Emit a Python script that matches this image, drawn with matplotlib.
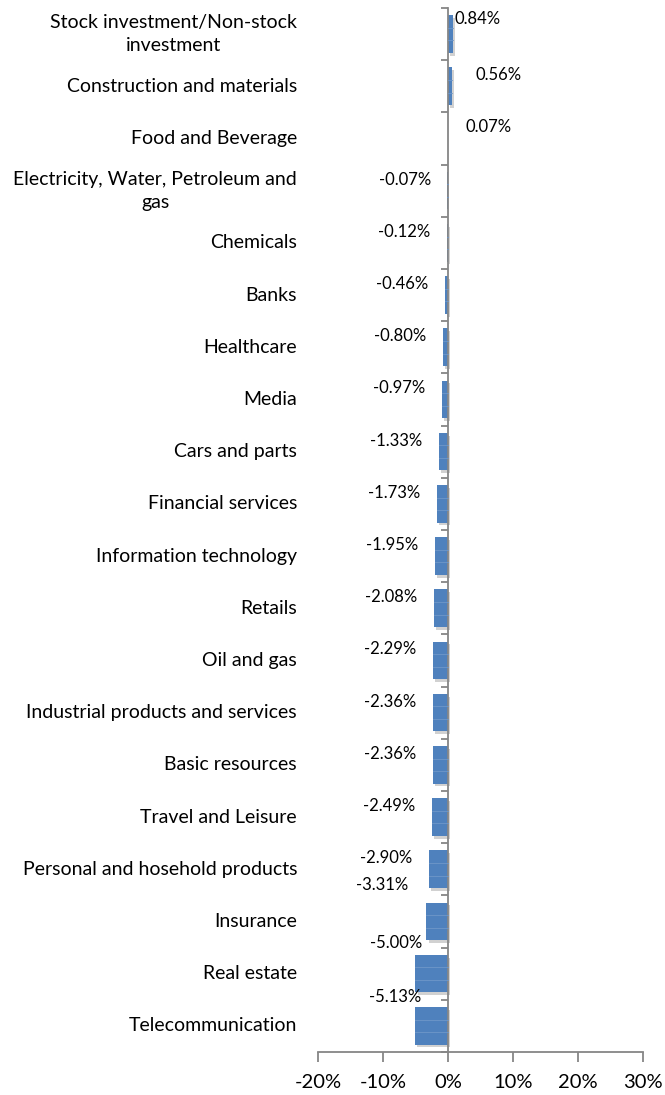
import matplotlib.pyplot as plt
import matplotlib.transforms as mtransforms
import numpy as np

plt.rcParams['font.family'] = ['Lato', 'DejaVu Sans']

# Sector performance, top to bottom
sectors = [
    'Stock investment/Non-stock\ninvestment',
    'Construction and materials',
    'Food and Beverage',
    'Electricity, Water, Petroleum and\ngas',
    'Chemicals',
    'Banks',
    'Healthcare',
    'Media',
    'Cars and parts',
    'Financial services',
    'Information technology',
    'Retails',
    'Oil and gas',
    'Industrial products and services',
    'Basic resources',
    'Travel and Leisure',
    'Personal and hosehold products',
    'Insurance',
    'Real estate',
    'Telecommunication',
]
change_pct = [0.84, 0.56, 0.07, -0.07, -0.12, -0.46, -0.80, -0.97, -1.33, -1.73,
              -1.95, -2.08, -2.29, -2.36, -2.36, -2.49, -2.90, -3.31, -5.00, -5.13]
xticks = [-20, -10, 0, 10, 20, 30]

# hand-placed label nudges (points) for a few crowded labels
label_nudge = {0: (-11, 3), 1: (5, 0), 17: (-1, 18), 18: (17, 14), 19: (17, 13)}

bar_color = '#4f81bd'
axis_color = '#868686'

fig = plt.figure(figsize=(6.65, 10.95), dpi=100)
ax = fig.add_axes([0.478, 0.0393, 0.489, 0.9534])

y = np.arange(len(sectors))
vals = np.array(change_pct)

# soft drop shadow under each bar
shadow = mtransforms.offset_copy(ax.transData, fig=fig, x=1.5, y=-2, units='points')
ax.barh(y, vals, height=0.72, color='#000000', alpha=0.18, transform=shadow, zorder=1)
ax.barh(y, vals, height=0.72, color=bar_color, zorder=2)
# faint banding inside the bars
for yy, v in zip(y, vals):
    for f in (-0.12, 0.12):
        ax.plot([0, v], [yy + f, yy + f], color='#6f97c8', lw=0.6, zorder=3)

ax.set_xlim(-20, 30)
ax.set_ylim(len(sectors) - 0.5, -0.5)

# value labels
for i, v in enumerate(vals):
    dx, dy = label_nudge.get(i, (0, 0))
    if v < 0:
        ax.annotate(f'{v:.2f}%', (v, i), xytext=(-12 + dx, 8 + dy),
                    textcoords='offset points', ha='right', va='center',
                    fontsize=12, color='#000000', zorder=4)
    else:
        ax.annotate(f'{v:.2f}%', (v, i), xytext=(12 + dx, 8 + dy),
                    textcoords='offset points', ha='left', va='center',
                    fontsize=12, color='#000000', zorder=4)

# vertical axis sits at zero, ticks between categories
ax.spines['left'].set_position(('data', 0))
ax.spines['left'].set_color(axis_color)
ax.spines['left'].set_linewidth(1.3)
ax.set_yticks(np.arange(-0.5, len(sectors), 1))
ax.tick_params(axis='y', length=5, width=1.3, color=axis_color, labelleft=False)

ax.spines['bottom'].set_color(axis_color)
ax.spines['bottom'].set_linewidth(1.3)
ax.spines['top'].set_visible(False)
ax.spines['right'].set_visible(False)
ax.set_xticks(xticks)
ax.set_xticklabels([f'{t}%' for t in xticks])
ax.tick_params(axis='x', length=7, width=1.3, color=axis_color, labelsize=14.5, pad=9)

# category names to the left of the plot area
name_tf = mtransforms.offset_copy(ax.get_yaxis_transform(), fig=fig, x=-15, y=0, units='points')
for i, name in enumerate(sectors):
    ax.text(0, i, name, transform=name_tf, ha='right', va='center',
            multialignment='center', fontsize=14, linespacing=1.45, color='#000000')

fig.savefig('out.png', dpi=100)
